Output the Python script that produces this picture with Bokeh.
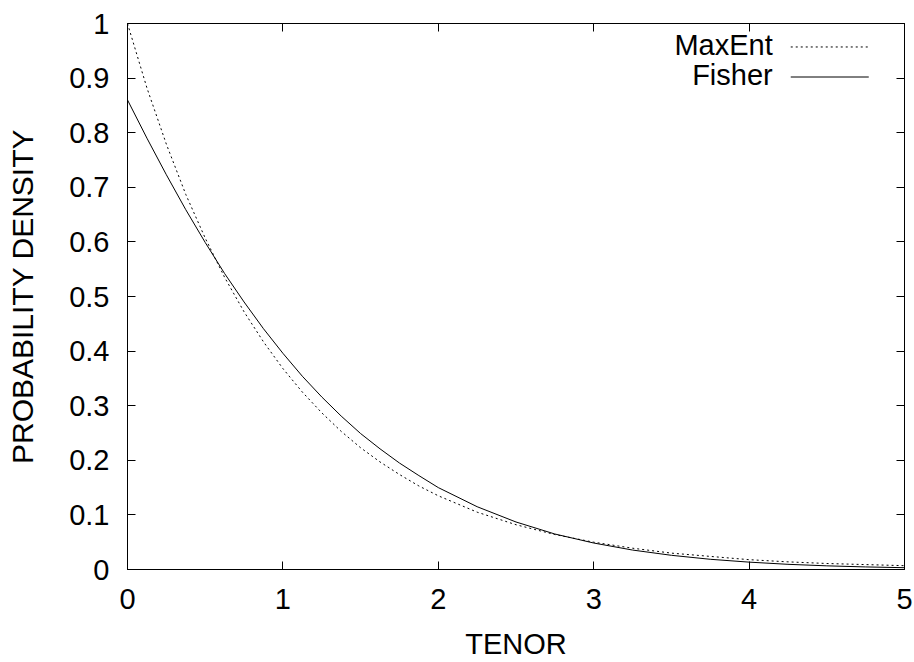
from bokeh.plotting import figure
from bokeh.models import Range1d, FixedTicker, LinearAxis, Label, Arrow
from bokeh.embed import file_html
from bokeh.resources import INLINE

# ---- data ----
tenor = [0.0, 0.125, 0.25, 0.375, 0.5, 0.625, 0.75, 0.875, 1.0, 1.125, 1.25, 1.375,
         1.5, 1.625, 1.75, 1.875, 2.0, 2.25, 2.5, 2.75, 3.0, 3.25, 3.5, 3.75, 4.0,
         4.25, 4.5, 4.75, 5.0]
maxent = [1.0, 0.882, 0.779, 0.687, 0.607, 0.535, 0.472, 0.417, 0.368, 0.325, 0.287, 0.253,
          0.223, 0.197, 0.174, 0.153, 0.135, 0.105, 0.082, 0.064, 0.050, 0.039, 0.030, 0.024,
          0.018, 0.014, 0.011, 0.009, 0.007]
fisher = [0.860, 0.790, 0.723, 0.659, 0.599, 0.542, 0.490, 0.441, 0.396, 0.354, 0.316, 0.281,
          0.249, 0.221, 0.195, 0.172, 0.150, 0.115, 0.087, 0.065, 0.0485, 0.0356, 0.026, 0.0187,
          0.0135, 0.0095, 0.0067, 0.0047, 0.0033]

x_ticks = [0, 1, 2, 3, 4, 5]
x_tick_labels = ["0", "1", "2", "3", "4", "5"]
y_ticks = [0, 0.1, 0.2, 0.3, 0.4, 0.5, 0.6, 0.7, 0.8, 0.9, 1]
y_tick_labels = ["0", "0.1", "0.2", "0.3", "0.4", "0.5", "0.6", "0.7", "0.8", "0.9", "1"]

series_names = ["MaxEnt", "Fisher"]
x_title = "TENOR"
y_title = "PROBABILITY DENSITY"

FONT = "Liberation Sans"
FS = "29px"

p = figure(width=914, height=662, output_backend="svg", toolbar_location=None,
           x_range=Range1d(0, 5), y_range=Range1d(0, 1),
           min_border_left=127, min_border_right=10, min_border_top=23, min_border_bottom=90)
p.background_fill_color = "white"
p.border_fill_color = "white"
p.grid.visible = False
p.outline_line_color = "black"
p.outline_line_width = 1

def style_axis(ax, ticks, labels, show_labels=True):
    ax.ticker = FixedTicker(ticks=ticks)
    ax.major_tick_in = 8
    ax.major_tick_out = 0
    ax.minor_tick_in = 0
    ax.minor_tick_out = 0
    ax.axis_line_color = "black"
    ax.major_tick_line_color = "black"
    ax.major_label_text_font = FONT
    ax.major_label_text_color = "black"
    if show_labels:
        ax.major_label_overrides = {t: l for t, l in zip(ticks, labels)}
        ax.major_label_text_font_size = FS
    else:
        ax.major_label_overrides = {t: "" for t in ticks}
        ax.major_label_text_font_size = "1px"
        ax.major_label_standoff = 0
        ax.axis_label_standoff = 0

style_axis(p.xaxis[0], x_ticks, x_tick_labels)
style_axis(p.yaxis[0], y_ticks, y_tick_labels)
p.xaxis[0].major_label_standoff = 19
p.yaxis[0].major_label_standoff = 18

p.xaxis[0].axis_label = x_title
p.yaxis[0].axis_label = y_title
for ax in (p.xaxis[0], p.yaxis[0]):
    ax.axis_label_text_font = FONT
    ax.axis_label_text_font_style = "normal"
    ax.axis_label_text_color = "black"
p.xaxis[0].axis_label_text_font_size = FS
p.yaxis[0].axis_label_text_font_size = "30px"
p.xaxis[0].axis_label_standoff = 16
p.yaxis[0].axis_label_standoff = 27

top_ax = LinearAxis()
style_axis(top_ax, x_ticks, x_tick_labels, show_labels=False)
p.add_layout(top_ax, "above")
right_ax = LinearAxis()
style_axis(right_ax, y_ticks, y_tick_labels, show_labels=False)
p.add_layout(right_ax, "right")

p.line(tenor, maxent, line_color="black", line_width=1, line_dash="2 3")
p.line(tenor, fisher, line_color="black", line_width=1)

# gnuplot-style key: text on the left, sample line on the right
key_y = [0.960, 0.905]
key_dash = ["2 3", "solid"]
for name, ky, dash in zip(series_names, key_y, key_dash):
    p.add_layout(Label(x=4.152, y=ky, text=name, text_align="right", text_baseline="middle",
                       text_font=FONT, text_font_size=FS, text_color="black"))
    p.add_layout(Arrow(x_start=4.268, y_start=ky - 0.003, x_end=4.77, y_end=ky - 0.003,
                       end=None, line_color="black", line_width=1, line_dash=dash))

open("out.html", "w").write(file_html(p, INLINE))
